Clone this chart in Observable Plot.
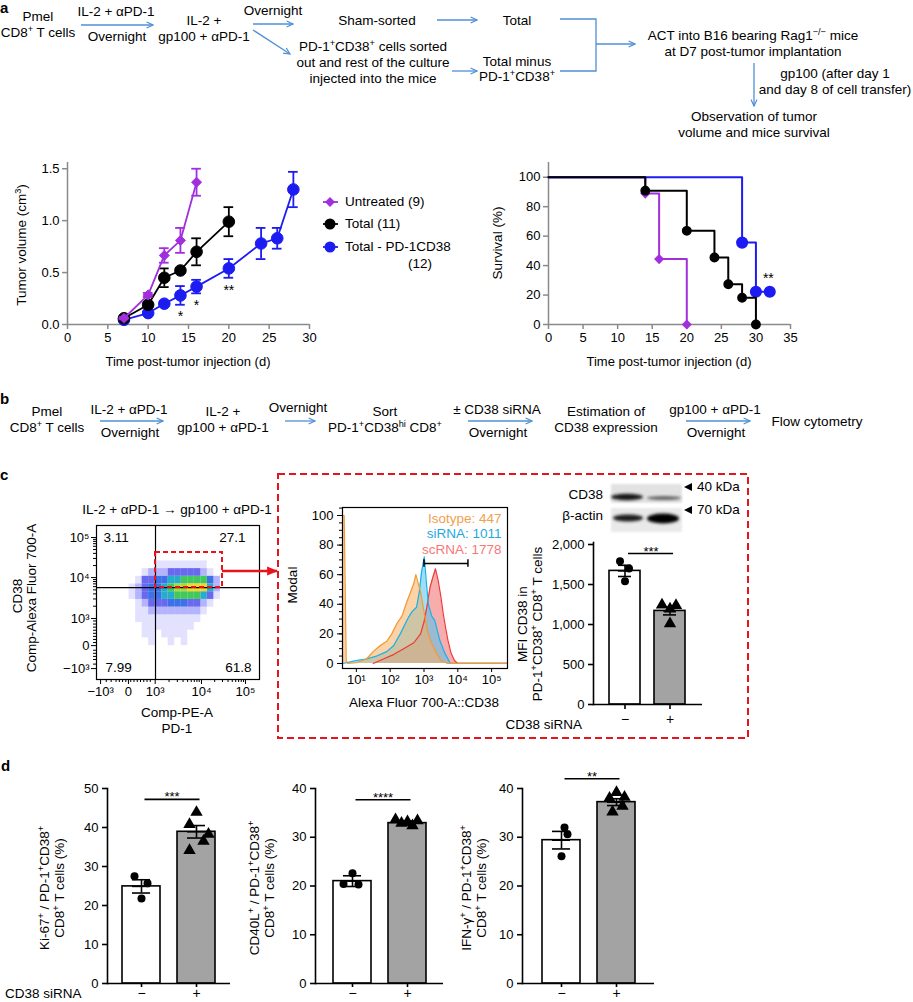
<!DOCTYPE html>
<html>
<head>
<meta charset="utf-8">
<script src="https://cdn.jsdelivr.net/npm/d3@7"></script>
<script src="https://cdn.jsdelivr.net/npm/@observablehq/plot@0.6"></script>
<style>
html,body{margin:0;padding:0;background:#fff;}
#fig{position:relative;width:913px;height:1002px;overflow:hidden;background:#fff;
  font-family:"Liberation Sans",Arial,Helvetica,sans-serif;font-size:13.5px;color:#000;}
.tx{position:absolute;white-space:nowrap;line-height:16px;text-align:center;}
.tx sup{font-size:0.68em;vertical-align:0.5em;line-height:0;}
.pl{position:absolute;}
.pl svg{display:block;}
#ov{position:absolute;left:0;top:0;pointer-events:none;}
</style>
</head>
<body>
<div id="fig"></div>
<script>
// ================= DATA =================
// a — tumour volume (cm3) by day
const untreatedDay = [7, 10, 12, 14, 16];
const untreatedVol = [0.06, 0.285, 0.665, 0.81, 1.37];
const untreatedSem = [0.01, 0.02, 0.07, 0.12, 0.13];
const totalDay = [7, 10, 12, 14, 16, 20];
const totalVol = [0.06, 0.19, 0.45, 0.52, 0.70, 0.99];
const totalSem = [0.01, 0.02, 0.09, 0.02, 0.13, 0.14];
const minusDay = [7, 10, 12, 14, 16, 20, 24, 26, 28];
const minusVol = [0.045, 0.11, 0.20, 0.28, 0.365, 0.54, 0.78, 0.83, 1.30];
const minusSem = [0.01, 0.02, 0.02, 0.09, 0.065, 0.09, 0.15, 0.10, 0.17];
const tumorStarDay = [14, 16, 20];
const tumorStarVol = [0.08, 0.185, 0.33];
const tumorStarText = ["*", "*", "**"];
const tumorXTicks = [0, 5, 10, 15, 20, 25, 30];
const tumorYTicks = [0, 0.5, 1.0, 1.5];
const legendLabels = ["Untreated (9)", "Total (11)", "Total - PD-1CD38", "(12)"];

// a — survival (%)
const survUntreatedDay = [0, 14, 16, 20];
const survUntreatedPct = [100, 88.9, 44.4, 0];
const survTotalDay = [0, 14, 20, 24, 26, 28, 30];
const survTotalPct = [100, 90.9, 63.6, 45.5, 27.3, 18.2, 0];
const survMinusDay = [0, 28, 30, 32];
const survMinusPct = [100, 55.6, 22.2, 22.2];
const survStarDay = 31.8, survStarPct = 31.5, survStarText = "**";
const survXTicks = [0, 5, 10, 15, 20, 25, 30, 35];
const survYTicks = [0, 20, 40, 60, 80, 100];

// c — flow dot plot (display channel units 0–100), density levels 0–9 per cell
const flowXBins = [20, 24, 28, 32, 36, 40, 44, 48, 52, 56, 60, 64, 68, 72, 76];
const flowYBins = [72, 67, 62, 57, 52, 47, 42, 37, 32, 27, 22];
const flowDensity = [
  "000011111111000",
  "001222333332100",
  "013344556666420",
  "123445677888520",
  "123445566665310",
  "012333444332100",
  "011222222221000",
  "011111111110000",
  "001111111100000",
  "001101111000000",
  "000100101000000"
];
const flowXTicks = [2.5, 19.6, 36, 64.4, 91.4];
const flowYTicks = [7.1, 22, 39.6, 66.2, 92.2];
const flowTickLabels = ["\u221210\u00b3", "0", "10\u00b3", "10\u2074", "10\u2075"];
const flowXMinor = [6, 9, 12, 14, 16, 18, 21, 23, 25, 27, 29, 31, 33, 44.5, 49.6, 53.1, 55.9, 58.1, 60, 61.6, 63, 72.5, 77.3, 80.7, 83.3, 85.4, 87.2, 88.8, 90.2];
const flowYMinor = [10, 13, 15, 17, 19, 24, 26, 28, 30, 32, 34, 36, 38, 47.6, 52.3, 55.6, 58.2, 60.3, 62.1, 63.6, 64.9, 74.0, 78.6, 81.9, 84.4, 86.5, 88.2, 89.7, 91];
const quadX = 36.2, quadY = 59.7;
const gateX1 = 36.2, gateX2 = 77.3, gateY1 = 59.7, gateY2 = 82.5;
const quadPct = ["3.11", "27.1", "7.99", "61.8"];

// c — CD38 histogram (x = log10 intensity, y = % of max)
const isoX = [0.6, 0.64, 0.70, 0.74, 1.0, 1.3, 1.5, 1.7, 1.9, 2.05, 2.2, 2.35, 2.5, 2.6, 2.7, 2.76, 2.82, 2.9, 3.0, 3.1, 3.2, 3.35, 3.5, 3.7, 5.47];
const isoY = [100, 100, 2, 0, 0.5, 3, 8, 12, 15, 20, 27, 32, 42, 48, 54, 60, 55, 48, 35, 22, 15, 8, 2, 0, 0];
const siX = [0.6, 1.0, 1.3, 1.6, 1.9, 2.1, 2.3, 2.45, 2.54, 2.65, 2.78, 2.86, 2.93, 3.01, 3.07, 3.13, 3.23, 3.32, 3.47, 3.62, 3.78, 5.47];
const siY = [0, 2, 3, 5, 8, 12, 20, 27, 31, 35, 38, 48, 62, 72, 55, 40, 32, 29, 15.5, 6.8, 0, 0];
const scX = [1.5, 1.8, 2.1, 2.4, 2.7, 2.9, 3.0, 3.1, 3.18, 3.26, 3.34, 3.42, 3.5, 3.57, 3.64, 3.71, 3.8, 3.9, 4.0, 5.47];
const scY = [0, 3, 6, 10, 14, 20, 28, 40, 51.6, 58, 64, 56, 45, 33.6, 24, 15.5, 7, 2, 0, 0];
const histLegend = ["Isotype: 447", "siRNA: 1011", "scRNA: 1778"];
const histGate = [3.0, 4.3], histGateY = 67.6;
const histXTicks = [1, 2, 3, 4, 5];
const histXLabels = ["10\u00b9", "10\u00b2", "10\u00b3", "10\u2074", "10\u2075"];
const histYTicks = [0, 20, 40, 60, 80, 100];

// c — MFI CD38 bars
const siCats = ["\u2212", "+"];
const mfiMean = [1670, 1170];
const mfiSem = [70, 50];
const mfiMinus = [1790, 1700, 1540];
const mfiPlus = [1245, 1240, 1195, 1010];
const mfiTicks = [0, 500, 1000, 1500, 2000];
const mfiSig = "***", mfiSigY = 1887;

// d — functional read-outs (%)
const ki67Mean = [24.9, 38.9], ki67Sem = [1.7, 1.6];
const ki67Minus = [27.5, 25.7, 21.8];
const ki67Plus = [43.9, 40.8, 38.3, 36.5, 34.1];
const cd40Mean = [21.0, 32.9], cd40Sem = [1.1, 0.4];
const cd40Minus = [22.6, 20.4, 20.3];
const cd40Plus = [33.6, 33.4, 33.2, 32.9, 32.4];
const ifnMean = [29.4, 37.2], ifnSem = [1.8, 0.7];
const ifnMinus = [32.0, 30.6, 26.1];
const ifnPlus = [39.2, 38.0, 38.2, 36.4, 35.2];
const dSig = ["***", "****", "**"];
const dSigY = [47.2, 37.7, 42.0];
const ki67Ticks = [0, 10, 20, 30, 40, 50];
const pctTicks = [0, 10, 20, 30, 40];

// ================= RENDER =================
const fig = document.getElementById("fig");
const FONT = '"Liberation Sans", Arial, Helvetica, sans-serif';
const AX = "#8a8a8a";
const PURPLE = "#a22fdc", BLUE = "#1c1cf2", BLACK = "#000";
const RED = "#e8141c", ARROW = "#4f8fd6";
const baseStyle = {background: "transparent", overflow: "visible", fontSize: "13px", fontFamily: FONT, color: "#000", maxWidth: "none"};

function place(node, left, top, w) {
  const d = document.createElement("div");
  d.className = "pl";
  d.style.left = left + "px"; d.style.top = top + "px"; d.style.width = w + "px";
  d.appendChild(node); fig.appendChild(d);
}
function tx(html, x, y, o = {}) {
  const d = document.createElement("div");
  d.className = "tx";
  d.innerHTML = html;
  const a = o.anchor || "middle";
  const tX = a === "start" ? "0" : a === "end" ? "-100%" : "-50%";
  d.style.transform = o.rot ? "translate(-50%,-50%) rotate(-90deg)" : `translate(${tX},-50%)`;
  d.style.left = x + "px"; d.style.top = y + "px";
  if (a === "start") d.style.textAlign = "left";
  if (a === "end") d.style.textAlign = "right";
  if (o.size) d.style.fontSize = o.size + "px";
  if (o.bold) d.style.fontWeight = "bold";
  if (o.lh) d.style.lineHeight = o.lh + "px";
  if (o.color) d.style.color = o.color;
  fig.appendChild(d);
}

// ---- a: tumour growth ----
function growth(days, vol, sem, color, symbol, r) {
  const rows = days.map((d, i) => ({d, v: vol[i], s: sem[i]}));
  const CAP = 0.6;
  return [
    Plot.ruleX(rows, {x: "d", y1: q => q.v - q.s, y2: q => q.v + q.s, stroke: color, strokeWidth: 1.8}),
    Plot.ruleY(rows, {y: q => q.v + q.s, x1: q => q.d - CAP, x2: q => q.d + CAP, stroke: color, strokeWidth: 1.8}),
    Plot.ruleY(rows, {y: q => q.v - q.s, x1: q => q.d - CAP, x2: q => q.d + CAP, stroke: color, strokeWidth: 1.8}),
    Plot.line(rows, {x: "d", y: "v", stroke: color, strokeWidth: 1.8}),
    Plot.dot(rows, {x: "d", y: "v", symbol, r, fill: color, stroke: color, strokeWidth: 1})
  ];
}
const tumorStars = tumorStarDay.map((d, i) => ({d, v: tumorStarVol[i], t: tumorStarText[i]}));
const tumorPlot = Plot.plot({
  width: 470, height: 240, marginLeft: 67, marginRight: 161, marginTop: 22, marginBottom: 56,
  style: baseStyle,
  x: {domain: [0, 30]}, y: {domain: [0, 1.56]},
  marks: [
    Plot.axisX({ticks: tumorXTicks, tickSize: 5, tickPadding: 3, stroke: AX, strokeWidth: 1.5, label: null, tickFormat: d => String(d)}),
    Plot.axisY({ticks: tumorYTicks, tickSize: 5, tickPadding: 3, stroke: AX, strokeWidth: 1.5, label: null, tickFormat: d => d.toFixed(1)}),
    Plot.ruleY([0], {stroke: AX, strokeWidth: 1.5}),
    Plot.ruleX([0], {stroke: AX, strokeWidth: 1.5}),
    ...growth(minusDay, minusVol, minusSem, BLUE, "circle", 5.8),
    ...growth(totalDay, totalVol, totalSem, BLACK, "circle", 5.8),
    ...growth(untreatedDay, untreatedVol, untreatedSem, PURPLE, "diamond2", 4.5),
    Plot.text(tumorStars, {x: "d", y: "v", text: "t", fontSize: 14})
  ]
});
place(tumorPlot, 0, 140, 470);

// ---- a: survival ----
function km(days, pct, color, symbol, r) {
  const rows = days.map((d, i) => ({d, p: pct[i]}));
  return [
    Plot.line(rows, {x: "d", y: "p", curve: "step-after", stroke: color, strokeWidth: 2}),
    Plot.dot(rows.filter(q => q.d > 0), {x: "d", y: "p", symbol, r, fill: color, stroke: color})
  ];
}
const survPlot = Plot.plot({
  width: 400, height: 240, marginLeft: 108, marginRight: 50, marginTop: 22, marginBottom: 56,
  style: baseStyle,
  x: {domain: [0, 35]}, y: {domain: [0, 110]},
  marks: [
    Plot.axisX({ticks: survXTicks, tickSize: 5, tickPadding: 3, stroke: AX, strokeWidth: 1.5, label: null, tickFormat: d => String(d)}),
    Plot.axisY({ticks: survYTicks, tickSize: 5, tickPadding: 3, stroke: AX, strokeWidth: 1.5, label: null, tickFormat: d => String(d)}),
    Plot.ruleY([0], {stroke: AX, strokeWidth: 1.5}),
    Plot.ruleX([0], {stroke: AX, strokeWidth: 1.5}),
    ...km(survUntreatedDay, survUntreatedPct, PURPLE, "diamond2", 3.6),
    ...km(survMinusDay, survMinusPct, BLUE, "circle", 5.3),
    ...km(survTotalDay, survTotalPct, BLACK, "circle", 4.2),
    Plot.text([survStarText], {x: () => survStarDay, y: () => survStarPct, text: d => d, fontSize: 14})
  ]
});
place(survPlot, 440, 140, 400);

// ---- c: flow dot plot ----
const cells = [];
flowDensity.forEach((row, ri) => [...row].forEach((ch, ci) => {
  const lvl = +ch;
  if (lvl > 0) cells.push({x1: flowXBins[ci], x2: flowXBins[ci] + 4, y1: flowYBins[ri], y2: flowYBins[ri] + 5, lvl});
}));
const densColor = [null, "#4a4aff", "#3030f6", "#1c1ce8", "#1450e2", "#10a4c4", "#2dc24a", "#a6d42a", "#f2d21a", "#f03a1a"];
const densOpacity = [0, 0.16, 0.36, 0.66, 0.82, 0.9, 0.9, 0.92, 0.92, 0.92];
const densMarks = [];
for (let k = 1; k <= 9; k++) densMarks.push(Plot.rect(cells.filter(c => c.lvl === k), {x1: "x1", x2: "x2", y1: "y1", y2: "y2", fill: densColor[k], fillOpacity: densOpacity[k]}));
const flowFmt = ticks => d => flowTickLabels[ticks.indexOf(d)];
const flowPlot = Plot.plot({
  width: 280, height: 230, marginLeft: 96, marginRight: 21, marginTop: 25, marginBottom: 51,
  style: baseStyle,
  x: {domain: [0, 100]}, y: {domain: [0, 100]},
  marks: [
    ...densMarks,
    Plot.ruleX([quadX], {stroke: "#000", strokeWidth: 1.2}),
    Plot.ruleY([quadY], {stroke: "#000", strokeWidth: 1.2}),
    Plot.rect([0], {x1: () => gateX1, x2: () => gateX2, y1: () => gateY1, y2: () => gateY2, fill: "none", stroke: RED, strokeWidth: 2, strokeDasharray: "5,3"}),
    Plot.frame({stroke: "#000", strokeWidth: 1.2}),
    Plot.axisX({ticks: flowXTicks, tickFormat: flowFmt(flowXTicks), tickSize: 5, tickPadding: 2, label: null}),
    Plot.axisX({ticks: flowXMinor, tickFormat: () => "", tickSize: 3, label: null}),
    Plot.axisY({ticks: flowYTicks, tickFormat: flowFmt(flowYTicks), tickSize: 5, tickPadding: 2, label: null}),
    Plot.axisY({ticks: flowYMinor, tickFormat: () => "", tickSize: 3, label: null}),
    Plot.text([quadPct[0]], {text: d => d, frameAnchor: "top-left", textAnchor: "start", lineAnchor: "middle", dx: 7, dy: 12, fontSize: 13.5}),
    Plot.text([quadPct[1]], {text: d => d, frameAnchor: "top-right", textAnchor: "end", lineAnchor: "middle", dx: -14, dy: 12, fontSize: 13.5}),
    Plot.text([quadPct[2]], {text: d => d, frameAnchor: "bottom-left", textAnchor: "start", lineAnchor: "middle", dx: 9, dy: -12, fontSize: 13.5}),
    Plot.text([quadPct[3]], {text: d => d, frameAnchor: "bottom-right", textAnchor: "end", lineAnchor: "middle", dx: -8, dy: -12, fontSize: 13.5})
  ]
});
place(flowPlot, 0, 500, 280);

// ---- c: histogram ----
const toRows = (xs, ys) => xs.map((x, i) => ({x, y: ys[i]}));
const isoRows = toRows(isoX, isoY), siRows = toRows(siX, siY), scRows = toRows(scX, scY);
const histPlot = Plot.plot({
  width: 230, height: 220, marginLeft: 42, marginRight: 23, marginTop: 27, marginBottom: 32,
  style: baseStyle,
  x: {domain: [0.59, 5.47]}, y: {domain: [-3.4, 105.4]},
  marks: [
    Plot.areaY(scRows, {x: "x", y: "y", fill: "#f47b7b", fillOpacity: 0.62}),
    Plot.areaY(siRows, {x: "x", y: "y", fill: "#4ec4ee", fillOpacity: 0.55}),
    Plot.areaY(isoRows, {x: "x", y: "y", fill: "#f5ae62", fillOpacity: 0.55}),
    Plot.lineY(scRows, {x: "x", y: "y", stroke: "#ee3a3a", strokeWidth: 1.2}),
    Plot.lineY(siRows, {x: "x", y: "y", stroke: "#16b2ec", strokeWidth: 1.2}),
    Plot.lineY(isoRows, {x: "x", y: "y", stroke: "#f39a33", strokeWidth: 1.2}),
    Plot.link([0], {x1: () => histGate[0], x2: () => histGate[1], y1: () => histGateY, y2: () => histGateY, stroke: "#000", strokeWidth: 1.5}),
    Plot.ruleX(histGate, {x: d => d, y1: histGateY - 2.5, y2: histGateY + 2.5, stroke: "#000", strokeWidth: 1.5}),
    Plot.frame({stroke: "#000", strokeWidth: 1.2}),
    Plot.axisX({ticks: histXTicks, tickFormat: d => histXLabels[histXTicks.indexOf(d)], tickSize: 4, tickPadding: 2, label: null}),
    Plot.axisY({ticks: histYTicks, tickSize: 5, tickPadding: 4, label: null, tickFormat: d => String(d)}),
    Plot.axisY({interval: 5, tickSize: 3, tickFormat: () => "", label: null}),
    Plot.text([histLegend[0]], {text: d => d, frameAnchor: "top-right", textAnchor: "end", lineAnchor: "middle", dx: -6, dy: 11, fill: "#f0a14e", fontSize: 13.5}),
    Plot.text([histLegend[1]], {text: d => d, frameAnchor: "top-right", textAnchor: "end", lineAnchor: "middle", dx: -6, dy: 26, fill: "#1fa8e0", fontSize: 13.5}),
    Plot.text([histLegend[2]], {text: d => d, frameAnchor: "top-right", textAnchor: "end", lineAnchor: "middle", dx: -6, dy: 42, fill: "#f47878", fontSize: 13.5})
  ]
});
place(histPlot, 300, 480, 230);

// ---- bar charts (c MFI, d) ----
function barPlot(c) {
  const bars = siCats.map((k, i) => ({k, m: c.means[i], s: c.sems[i]}));
  const marks = [
    Plot.barY(bars, {x: "k", y: "m", fill: d => d.k === siCats[1] ? "#a3a3a3" : "#ffffff", stroke: "#000", strokeWidth: 1.6, insetLeft: 0, insetRight: 0}),
    Plot.ruleX(bars, {x: "k", y1: d => d.m - d.s, y2: d => d.m + d.s, stroke: "#000", strokeWidth: 1.6}),
    Plot.tickY(bars, {x: "k", y: d => d.m + d.s, insetLeft: c.cap, insetRight: c.cap, stroke: "#000", strokeWidth: 1.6}),
    Plot.tickY(bars, {x: "k", y: d => d.m - d.s, insetLeft: c.cap, insetRight: c.cap, stroke: "#000", strokeWidth: 1.6}),
    Plot.tickY(bars, {x: "k", y: "m", insetLeft: c.cap, insetRight: c.cap, stroke: "#000", strokeWidth: 1.6})
  ];
  c.ptsA.forEach((v, i) => marks.push(Plot.dot([v], {x: () => siCats[0], y: d => d, dx: c.jA[i], r: 4, fill: "#000", symbol: "circle"})));
  c.ptsB.forEach((v, i) => marks.push(Plot.dot([v], {x: () => siCats[1], y: d => d, dx: c.jB[i], r: 4.6, fill: "#000", symbol: "triangle"})));
  marks.push(
    Plot.ruleY([0], {stroke: "#000", strokeWidth: 1.6}),
    Plot.frame({anchor: "left", stroke: "#000", strokeWidth: 1.6}),
    Plot.axisY({ticks: c.ticks, tickFormat: c.fmt, tickSize: 5, tickPadding: 4, strokeWidth: 1.6, label: null}),
    Plot.axisX({tickSize: c.xts, tickPadding: c.xtp, strokeWidth: 1.6, label: null, fontSize: 14}),
    Plot.link([0], {x1: () => siCats[0], x2: () => siCats[1], y1: () => c.sigY, y2: () => c.sigY, dx: 3, stroke: "#000", strokeWidth: 1.6}),
    Plot.text([c.sig], {x: () => siCats[0], y: () => c.sigY, dx: c.half + 3, dy: 2, text: d => d, lineAnchor: "bottom", fontSize: 13})
  );
  return Plot.plot({
    width: c.width, height: c.height, marginLeft: c.ml, marginRight: 10, marginTop: c.mt, marginBottom: c.mb,
    style: baseStyle,
    x: {domain: siCats, paddingInner: c.pi, paddingOuter: c.po},
    y: {domain: c.domain},
    marks
  });
}
place(barPlot({means: mfiMean, sems: mfiSem, ptsA: mfiMinus, ptsB: mfiPlus, jA: [-5, 4, 0], jB: [-8, 6, 0, 0],
  ticks: mfiTicks, fmt: d3.format(","), domain: [0, 2025], sig: mfiSig, sigY: mfiSigY, half: 23, cap: 9, xts: 5, xtp: 5,
  width: 212, height: 204, ml: 93, mt: 12, mb: 30, pi: 0.3, po: 0.335}), 500, 530, 212);
place(barPlot({means: ki67Mean, sems: ki67Sem, ptsA: ki67Minus, ptsB: ki67Plus, jA: [-7, 6, 0], jB: [0, -7, 12, 7, -7],
  ticks: ki67Ticks, fmt: d => String(d), domain: [0, 50], sig: dSig[0], sigY: dSigY[0], half: 27.5, cap: 10, xts: 4, xtp: 1,
  width: 240, height: 232, ml: 107, mt: 18, mb: 19, pi: 0.31, po: 0.273}), 0, 770, 240);
place(barPlot({means: cd40Mean, sems: cd40Sem, ptsA: cd40Minus, ptsB: cd40Plus, jA: [0, -9, 6], jB: [-12, 10, 0, -6, 5],
  ticks: pctTicks, fmt: d => String(d), domain: [0, 40], sig: dSig[1], sigY: dSigY[1], half: 27.5, cap: 10, xts: 4, xtp: 1,
  width: 233, height: 232, ml: 95, mt: 18, mb: 19, pi: 0.31, po: 0.318}), 220, 770, 233);
place(barPlot({means: ifnMean, sems: ifnSem, ptsA: ifnMinus, ptsB: ifnPlus, jA: [3, 6, 0], jB: [0, -7, 8, 6, -4],
  ticks: pctTicks, fmt: d => String(d), domain: [0, 40], sig: dSig[2], sigY: dSigY[2], half: 27.5, cap: 10, xts: 4, xtp: 1,
  width: 234, height: 232, ml: 92, mt: 18, mb: 19, pi: 0.31, po: 0.355}), 430, 770, 234);

// ================= TEXT =================
// panel letters
tx("a", 0, 8, {anchor: "start", bold: true, size: 15});
tx("b", 0, 399, {anchor: "start", bold: true, size: 15});
tx("c", 0, 475, {anchor: "start", bold: true, size: 15});
tx("d", 1, 766, {anchor: "start", bold: true, size: 15});

// a flow
tx("Pmel<br>CD8<sup>+</sup> T cells", 38, 25);
tx("IL-2 + \u03b1PD-1", 116, 12);
tx("Overnight", 117, 37);
tx("IL-2 +<br>gp100 + \u03b1PD-1", 204, 28, {lh: 15.5});
tx("Overnight", 273, 11);
tx("Sham-sorted", 377, 21);
tx("PD-1<sup>+</sup>CD38<sup>+</sup> cells sorted<br>out and rest of the culture<br>injected into the mice", 373, 63);
tx("Total", 517, 21);
tx("Total minus<br>PD-1<sup>+</sup>CD38<sup>+</sup>", 517, 69, {lh: 15});
tx("ACT into B16 bearing Rag1<sup>\u2212/\u2212</sup> mice<br>at D7 post-tumor implantation", 753, 44);
tx("gp100 (after day 1<br>and day 8 of cell transfer)", 835, 82);
tx("Observation of tumor<br>volume and mice survival", 754, 125);

// a charts
tx("Tumor volume (cm<sup>3</sup>)", 22, 245, {rot: true});
tx("Survival (%)", 498, 243, {rot: true});
tx("Time post-tumor injection (d)", 188, 362, {size: 13});
tx("Time post-tumor injection (d)", 669, 362, {size: 13});
tx(legendLabels[0], 345, 202, {anchor: "start"});
tx(legendLabels[1], 345, 224, {anchor: "start"});
tx(legendLabels[2], 345, 247, {anchor: "start"});
tx(legendLabels[3], 432, 264, {anchor: "end"});

// b flow
tx("Pmel<br>CD8<sup>+</sup> T cells", 47, 420);
tx("IL-2 + \u03b1PD-1", 129, 410);
tx("Overnight", 130, 433);
tx("IL-2 +<br>gp100 + \u03b1PD-1", 223, 420);
tx("Overnight", 298, 408);
tx("Sort<br>PD-1<sup>+</sup>CD38<sup>hi</sup> CD8<sup>+</sup>", 385, 420);
tx("\u00b1 CD38 siRNA", 497, 410);
tx("Overnight", 498, 433);
tx("Estimation of<br>CD38 expression", 606, 420);
tx("gp100 + \u03b1PD-1", 715, 410);
tx("Overnight", 716, 433);
tx("Flow cytometry", 817, 422);

// c labels
tx("IL-2 + \u03b1PD-1 \u2192 gp100 + \u03b1PD-1", 177, 510);
tx("CD38", 18, 596, {rot: true});
tx("Comp-Alexa Fluor 700-A", 32, 598, {rot: true});
tx("Comp-PE-A<br>PD-1", 177, 721);
tx("Modal", 293, 585, {rot: true});
tx("Alexa Fluor 700-A::CD38", 424, 703);
tx("MFI CD38 in<br>PD-1<sup>+</sup>CD38<sup>+</sup> CD8<sup>+</sup> T cells", 530, 624, {rot: true, lh: 15});
tx("CD38 siRNA", 582, 725, {anchor: "end"});
tx("CD38", 603, 495, {anchor: "end"});
tx("\u03b2-actin", 603, 516, {anchor: "end"});
tx("40 kDa", 697, 487, {anchor: "start"});
tx("70 kDa", 697, 510, {anchor: "start"});

// d labels
tx("Ki-67<sup>+</sup> / PD-1<sup>+</sup>CD38<sup>+</sup><br>CD8<sup>+</sup> T cells (%)", 52, 888, {rot: true, lh: 15});
tx("CD40L<sup>+</sup> / PD-1<sup>+</sup>CD38<sup>+</sup><br>CD8<sup>+</sup> T cells (%)", 262, 888, {rot: true, lh: 15});
tx("IFN-\u03b3<sup>+</sup> / PD-1<sup>+</sup>CD38<sup>+</sup><br>CD8<sup>+</sup> T cells (%)", 474, 888, {rot: true, lh: 15});
tx("CD38 siRNA", 5, 994, {anchor: "start", lh: 14});

// ================= OVERLAY (arrows, box, blot, legend keys) =================
const arrows = [
  [81, 25, 153, 25], [253, 24, 293, 24], [253, 30, 290, 54], [437, 20, 477, 20], [452, 71, 477, 71],
  [596, 44, 635, 44], [754, 63, 754, 106],
  [100, 421, 163, 421], [285, 421, 315, 421], [468, 421, 532, 421], [686, 421, 750, 421]
];
let ov = `<svg id="ov" width="913" height="1002" xmlns="http://www.w3.org/2000/svg">
<defs>
<marker id="bh" viewBox="0 0 10 10" refX="9" refY="5" markerWidth="8" markerHeight="8" markerUnits="userSpaceOnUse" orient="auto">
<path d="M1,1.2 L9,5 L1,8.8" fill="none" stroke="${ARROW}" stroke-width="1.5"/></marker>
<marker id="rh" viewBox="0 0 10 10" refX="9" refY="5" markerWidth="11" markerHeight="11" markerUnits="userSpaceOnUse" orient="auto">
<path d="M0,1 L10,5 L0,9 Z" fill="${RED}"/></marker>
<filter id="bl" x="-50%" y="-150%" width="200%" height="400%"><feGaussianBlur stdDeviation="1.5"/></filter>
<filter id="bl2" x="-20%" y="-50%" width="140%" height="200%"><feGaussianBlur stdDeviation="1.2"/></filter>
</defs>`;
arrows.forEach(([x1, y1, x2, y2]) => {
  ov += `<line x1="${x1}" y1="${y1}" x2="${x2}" y2="${y2}" stroke="${ARROW}" stroke-width="1.3" marker-end="url(#bh)"/>`;
});
ov += `<polyline points="560,19 596,19 596,71 560,71" fill="none" stroke="${ARROW}" stroke-width="1.3"/>`;
// red dashed box + arrow
ov += `<rect x="278" y="474" width="470" height="264" fill="none" stroke="${RED}" stroke-width="2" stroke-dasharray="7,4"/>`;
ov += `<line x1="222" y1="571" x2="277" y2="571" stroke="${RED}" stroke-width="2.5" marker-end="url(#rh)"/>`;
// western blot
ov += `<g filter="url(#bl2)"><rect x="611" y="484" width="71" height="19" fill="#e2e2e2"/><rect x="611" y="508" width="71" height="24" fill="#e9e9e9"/></g>
<g filter="url(#bl)">
<ellipse cx="627" cy="497" rx="16" ry="3.2" fill="#151515"/>
<ellipse cx="664" cy="498" rx="17" ry="1.8" fill="#555"/>
<ellipse cx="628" cy="518" rx="15" ry="3.4" fill="#1e1e1e"/>
<ellipse cx="663" cy="518.5" rx="16" ry="5" fill="#030303"/>
</g>
<polygon points="684,487 692,483 692,491" fill="#000"/>
<polygon points="684,510 692,506 692,514" fill="#000"/>`;
// tumour legend keys
ov += `<line x1="323" y1="202" x2="338" y2="202" stroke="${PURPLE}" stroke-width="1.8"/>
<polygon points="330,197 335,202 330,207 325,202" fill="${PURPLE}"/>
<line x1="323" y1="224" x2="338" y2="224" stroke="${BLACK}" stroke-width="1.8"/>
<circle cx="330" cy="224" r="5.5" fill="${BLACK}"/>
<line x1="323" y1="247" x2="338" y2="247" stroke="${BLUE}" stroke-width="1.8"/>
<circle cx="330" cy="247" r="5.5" fill="${BLUE}"/>`;
ov += `</svg>`;
fig.insertAdjacentHTML("beforeend", ov);
</script>
</body>
</html>
